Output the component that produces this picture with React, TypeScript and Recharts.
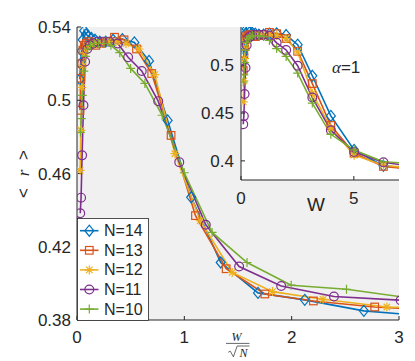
import React from 'react';
import { LineChart, Line, XAxis, YAxis, CartesianGrid, Legend } from 'recharts';

// disorder strengths W (same grid for every system size)
const W_VALUES = [0.1, 0.126, 0.158, 0.2, 0.251, 0.316, 0.398, 0.501, 0.631, 0.794, 1, 1.26, 1.58, 2, 2.51, 3.16, 3.98, 5.01, 6.31, 7.94, 10, 12.6];

// <r>, one list per N
const R_N14 = [0.5115, 0.52, 0.527, 0.533, 0.538, 0.536, 0.535, 0.534, 0.533, 0.532, 0.532, 0.533, 0.5334, 0.5316, 0.5215, 0.489, 0.447, 0.4114, 0.3948, 0.391, 0.385, 0.3817];
const R_N13 = [0.4945, 0.512, 0.52, 0.5274, 0.53, 0.531, 0.532, 0.531, 0.53, 0.531, 0.532, 0.5344, 0.533, 0.528, 0.5146, 0.4808, 0.437, 0.408, 0.3942, 0.3904, 0.3871, 0.385];
const R_N12 = [0.4617, 0.4836, 0.507, 0.519, 0.526, 0.529, 0.53, 0.531, 0.531, 0.531, 0.532, 0.532, 0.531, 0.528, 0.514, 0.4708, 0.4342, 0.406, 0.3955, 0.3913, 0.3871, 0.386];
const R_N11 = [0.4383, 0.4468, 0.4699, 0.4973, 0.521, 0.528, 0.53, 0.531, 0.532, 0.532, 0.532, 0.531, 0.5235, 0.516, 0.4995, 0.4662, 0.432, 0.4092, 0.3986, 0.3928, 0.3908, 0.389];
const R_N10 = [0.4825, 0.49, 0.5027, 0.5159, 0.524, 0.528, 0.53, 0.531, 0.531, 0.531, 0.53, 0.526, 0.5174, 0.5092, 0.4918, 0.4604, 0.4278, 0.4114, 0.399, 0.3968, 0.3915, 0.39];

const MAIN_X_TICKS = [0, 1, 2, 3];
const MAIN_Y_TICKS = [0.38, 0.42, 0.46, 0.5, 0.54];
const INSET_X_TICKS = [0, 5];
const INSET_Y_TICKS = [0.4, 0.45, 0.5];

const AXIS = '#262626';
const FONT = '"Liberation Sans", Arial, sans-serif';
const SERIF = '"Liberation Serif", "Times New Roman", serif';

type Shape = 'diamond' | 'square' | 'star' | 'circle' | 'plus';

const SERIES: { n: number; r: number[]; color: string; shape: Shape }[] = [
  { n: 14, r: R_N14, color: '#0072BD', shape: 'diamond' },
  { n: 13, r: R_N13, color: '#D95319', shape: 'square' },
  { n: 12, r: R_N12, color: '#EDB120', shape: 'star' },
  { n: 11, r: R_N11, color: '#7E2F8E', shape: 'circle' },
  { n: 10, r: R_N10, color: '#77AC30', shape: 'plus' },
];

// x = W / sqrt(N) for the main panel, plain W for the inset
const toPoints = (n: number, r: number[]) =>
  W_VALUES.map((w, i) => ({ x: w / Math.sqrt(n), w, r: r[i] }));

const Marker = ({ cx, cy, color, shape }: { cx?: number; cy?: number; color: string; shape: Shape }) => {
  if (cx == null || cy == null) return null;
  const p = { fill: 'none', stroke: color, strokeWidth: 1.2 };
  const s = 4.5;
  switch (shape) {
    case 'diamond':
      return <polygon points={`${cx},${cy - 5.5} ${cx + 4.5},${cy} ${cx},${cy + 5.5} ${cx - 4.5},${cy}`} {...p} />;
    case 'square':
      return <rect x={cx - 3.8} y={cy - 3.8} width={7.6} height={7.6} {...p} />;
    case 'circle':
      return <circle cx={cx} cy={cy} r={4.4} {...p} />;
    case 'plus':
      return <path d={`M${cx - s},${cy}H${cx + s}M${cx},${cy - s}V${cy + s}`} {...p} />;
    default: {
      const d = s * 0.72;
      return (
        <path
          d={`M${cx - s},${cy}H${cx + s}M${cx},${cy - s}V${cy + s}M${cx - d},${cy - d}L${cx + d},${cy + d}M${cx - d},${cy + d}L${cx + d},${cy - d}`}
          {...p}
        />
      );
    }
  }
};

const LegendBox = () => (
  <svg width={72} height={103} style={{ display: 'block' }}>
    <rect x={0.5} y={0.5} width={71} height={102} fill="#fff" stroke={AXIS} strokeWidth={0.8} />
    {SERIES.map((s, i) => {
      const y = 12.7 + i * 19.6;
      return (
        <g key={s.n}>
          <line x1={3} x2={21.5} y1={y} y2={y} stroke={s.color} strokeWidth={1.6} />
          <Marker cx={12.3} cy={y} color={s.color} shape={s.shape} />
          <text x={27} y={y} dominantBaseline="central" fontSize={16} fill={AXIS} fontFamily={FONT}>
            N={s.n}
          </text>
        </g>
      );
    })}
  </svg>
);

const FracLabel = () => (
  <g fill={AXIS} fontFamily={SERIF} fontStyle="italic">
    <text x={236.5} y={340.7} fontSize={12} textAnchor="middle">W</text>
    <line x1={226} x2={249.5} y1={343.4} y2={343.4} stroke={AXIS} strokeWidth={0.7} />
    <path d="M228.3,352.2 L230.3,351.2 L233.4,356.8 L237.2,346 H249.5" fill="none" stroke={AXIS} strokeWidth={0.7} />
    <text x={243.6} y={356.5} fontSize={12} textAnchor="middle">N</text>
  </g>
);

const RLabel = () => (
  <g fill={AXIS} fontSize={17}>
    <text x={23} y={155} transform="rotate(-90 23 155)" textAnchor="middle" dominantBaseline="central" fontFamily={FONT}>&gt;</text>
    <text x={23} y={173} transform="rotate(-90 23 173)" textAnchor="middle" dominantBaseline="central" fontFamily={SERIF} fontStyle="italic">r</text>
    <text x={23} y={193} transform="rotate(-90 23 193)" textAnchor="middle" dominantBaseline="central" fontFamily={FONT}>&lt;</text>
  </g>
);

const InsetXLabel = () => (
  <text x={126} y={194} textAnchor="middle" fontSize={19} fill={AXIS} fontFamily={FONT}>W</text>
);

const AlphaLabel = () => (
  <text x={142} y={56} fontSize={17} fill={AXIS} fontFamily={FONT}>
    <tspan fontFamily={SERIF} fontStyle="italic">α</tspan>=1
  </text>
);

const tickStyle = { fill: AXIS, fontSize: 17 };

const renderLines = () =>
  SERIES.map((s) => (
    <Line
      key={s.n}
      data={toPoints(s.n, s.r)}
      dataKey="r"
      type="linear"
      stroke={s.color}
      strokeWidth={1.6}
      isAnimationActive={false}
      activeDot={false}
      dot={(p: any) => <Marker key={p.index} cx={p.cx} cy={p.cy} color={s.color} shape={s.shape} />}
      name={`N=${s.n}`}
    />
  ));

export default function App() {
  return (
    <div style={{ position: 'absolute', left: 0, top: 0, width: 415, height: 361, background: '#fff', fontFamily: FONT }}>
      <LineChart width={415} height={361} margin={{ top: 27, right: 16, bottom: 11, left: 0 }}>
        <CartesianGrid fill="#f0f0f0" horizontal={false} vertical={false} />
        <XAxis
          type="number"
          dataKey="x"
          domain={[0, 3]}
          ticks={MAIN_X_TICKS}
          allowDataOverflow
          height={30}
          tickSize={-4}
          tickMargin={15}
          stroke={AXIS}
          tick={tickStyle}
          label={<FracLabel />}
        />
        <XAxis
          xAxisId="top"
          orientation="top"
          type="number"
          dataKey="x"
          domain={[0, 3]}
          ticks={MAIN_X_TICKS}
          allowDataOverflow
          height={0}
          tickSize={-4}
          tick={false}
          stroke={AXIS}
        />
        <YAxis
          type="number"
          domain={[0.38, 0.54]}
          ticks={MAIN_Y_TICKS}
          allowDataOverflow
          width={77}
          tickSize={-4}
          tickMargin={10}
          stroke={AXIS}
          tick={tickStyle}
          tickFormatter={(v: number) => String(v)}
          label={<RLabel />}
        />
        <YAxis
          yAxisId="right"
          orientation="right"
          type="number"
          domain={[0.38, 0.54]}
          ticks={MAIN_Y_TICKS}
          allowDataOverflow
          width={0}
          tickSize={-4}
          tick={false}
          stroke={AXIS}
        />
        {renderLines()}
        <Legend
          layout="horizontal"
          verticalAlign="middle"
          align="center"
          content={() => <LegendBox />}
          wrapperStyle={{ position: 'absolute', left: 77, top: 218, width: 72, height: 103 }}
        />
      </LineChart>

      <div style={{ position: 'absolute', left: 190, top: 17 }}>
        <LineChart width={214} height={200} margin={{ top: 10, right: 5, bottom: 7, left: 0 }}>
          <CartesianGrid fill="#ffffff" horizontal={false} vertical={false} />
          <XAxis
            type="number"
            dataKey="w"
            domain={[0, 7]}
            ticks={INSET_X_TICKS}
            allowDataOverflow
            height={30}
            tickSize={-4}
            tickMargin={16}
            stroke={AXIS}
            tick={tickStyle}
            label={<InsetXLabel />}
          />
          <XAxis
            xAxisId="top"
            orientation="top"
            type="number"
            dataKey="w"
            domain={[0, 7]}
            ticks={INSET_X_TICKS}
            allowDataOverflow
            height={0}
            tickSize={-4}
            tick={false}
            stroke={AXIS}
          />
          <YAxis
            type="number"
            domain={[0.38, 0.54]}
            ticks={INSET_Y_TICKS}
            allowDataOverflow
            width={51}
            tickSize={-4}
            tickMargin={11}
            stroke={AXIS}
            tick={tickStyle}
            label={<AlphaLabel />}
          />
          <YAxis
            yAxisId="right"
            orientation="right"
            type="number"
            domain={[0.38, 0.54]}
            ticks={INSET_Y_TICKS}
            allowDataOverflow
            width={0}
            tickSize={-4}
            tick={false}
            stroke={AXIS}
          />
          {renderLines()}
        </LineChart>
      </div>
    </div>
  );
}
